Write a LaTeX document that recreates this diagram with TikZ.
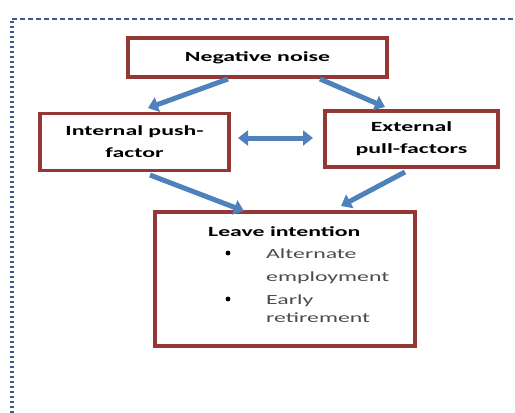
\documentclass[tikz,border=0pt]{standalone}
\usepackage{fontspec}
\setmainfont[FakeStretch=1.7]{Carlito}
\usetikzlibrary{arrows.meta}
\definecolor{boxred}{HTML}{953735}
\definecolor{arrowblue}{HTML}{4F81BD}
\definecolor{frameblue}{HTML}{385D8A}
\begin{document}
\begin{tikzpicture}[x=1pt, y=-1pt,
    box/.style={draw=boxred, line width=3.4pt, fill=white, inner sep=0pt, font=\bfseries\fontsize{14}{22}\selectfont, align=center},
    item/.style={text=black!70, font=\fontsize{14}{22}\selectfont, anchor=base west, inner sep=0pt},
    link/.style={arrowblue, line width=5pt, -{Triangle[length=10pt, width=15pt]}},
    both/.style={arrowblue, line width=5pt, {Triangle[length=10pt, width=15pt]}-{Triangle[length=10pt, width=15pt]}}]
    \useasboundingbox (0,0) rectangle (515,413);
    % dotted frame
    \draw[frameblue, line width=3.2pt, dash pattern=on 2.5pt off 2.5pt] (12,413) -- (12,19);
    \draw[frameblue, line width=2.6pt, dash pattern=on 5pt off 3pt] (12,19) -- (515,19);
    % boxes
    \node[box, minimum width=259pt, minimum height=39pt] (noise) at (257.5,57.5) {Negative noise};
    \node[box, minimum width=189pt, minimum height=57pt] (push) at (134.5,142) {Internal push-\\factor};
    \node[box, minimum width=173pt, minimum height=56pt] (pull) at (411.5,139) {External\\pull-factors};
    \node[box, minimum width=260pt, minimum height=134pt] (leave) at (285,279) {};
    \node[font=\bfseries\fontsize{14}{22}\selectfont, anchor=base west, inner sep=0pt] (title) at (208,236) {Leave intention};
    \node[item] (alt) at (266,258) {Alternate};
    \node[item] (emp) at (266,281) {employment};
    \node[item] (early) at (266,304) {Early};
    \node[item] (ret) at (266,322) {retirement};
    \fill (228,253) circle (2.4pt);
    \fill (228,299) circle (2.4pt);
    % arrows
    \coordinate (n1) at (228,79);
    \coordinate (n2) at (320,79);
    \draw[link] (n1) -- (148,108);
    \draw[link] (n2) -- (385,107);
    \draw[both] (238,138) -- (313,138);
    \draw[link] (150,175) -- (244,211);
    \draw[link] (405,172) -- (341,206);
\end{tikzpicture}
\end{document}
